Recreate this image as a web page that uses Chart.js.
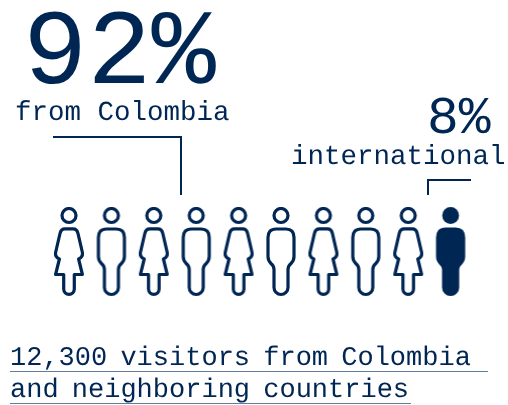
<!DOCTYPE html>
<html>
<head>
<meta charset="utf-8">
<title>Visitors from Colombia</title>
<script src="https://cdn.jsdelivr.net/npm/chart.js@4"></script>
<style>
  html, body { margin: 0; padding: 0; background: #fff; }
  #wrap { position: relative; width: 508px; height: 405px; overflow: hidden; text-rendering: geometricPrecision; }
  canvas { position: absolute; left: 0; top: 0; }
  .txt {
    position: absolute;
    font-family: "Liberation Mono", monospace;
    color: #002654;
    line-height: 1;
    white-space: pre;
  }
  .leader { position: absolute; box-sizing: border-box; border: 0 solid #002654; }
  #big { left: 23px; top: 2px; font-size: 107px; }
  #from { left: 15px; top: 100px; font-size: 27.5px; }
  #small { left: 427px; top: 93px; font-size: 53px; }
  #intl { left: 291px; top: 144px; font-size: 27.5px; }
  #foot { left: 10px; top: 343px; font-size: 27px; line-height: 33px; word-spacing: -3px; }
  #foot span { display: block; height: 28px; margin-bottom: 3px; border-bottom: 1.5px solid #5f7d9f; }
  #foot1 { width: 478px; }
  #foot2 { width: 401px; }
  #lead1 { left: 53px; top: 136px; width: 129px; height: 59px; border-top-width: 2px; border-right-width: 2px; }
  #lead2 { left: 427px; top: 179px; width: 44px; height: 16px; border-top-width: 2px; border-left-width: 2px; }
</style>
</head>
<body>
<div id="wrap">
  <canvas id="chart" width="508" height="405"></canvas>
  <div class="txt" id="big"></div>
  <div class="txt" id="from"></div>
  <div class="txt" id="small"></div>
  <div class="txt" id="intl"></div>
  <div class="txt" id="foot"><span id="foot1"></span><span id="foot2"></span></div>
  <div class="leader" id="lead1"></div>
  <div class="leader" id="lead2"></div>
</div>
<script>
const navy = "#002654";

const figureKinds = ["female", "male", "female", "male", "female", "male", "female", "male", "female", "male"];
const figureGroups = ["colombia", "colombia", "colombia", "colombia", "colombia", "colombia", "colombia", "colombia", "colombia", "international"];

const shareColombia = "92%";
const labelColombia = "from Colombia";
const shareInternational = "8%";
const labelInternational = "international";
const footLines = ["12,300 visitors from Colombia", "and neighboring countries"];

document.getElementById("big").textContent = shareColombia;
document.getElementById("from").textContent = labelColombia;
document.getElementById("small").textContent = shareInternational;
document.getElementById("intl").textContent = labelInternational;
document.getElementById("foot1").textContent = footLines[0];
document.getElementById("foot2").textContent = footLines[1];

function femalePath(ctx) {
  ctx.beginPath();
  ctx.moveTo(-4, 21.3);
  ctx.lineTo(4, 21.3);
  ctx.quadraticCurveTo(8, 21.3, 9, 26);
  ctx.lineTo(13.4, 45);
  ctx.quadraticCurveTo(14.2, 49.5, 9.6, 51.5);
  ctx.lineTo(13.4, 67);
  ctx.lineTo(5.3, 67);
  ctx.lineTo(5.3, 81.5);
  ctx.arc(0, 81.5, 5.3, 0, Math.PI);
  ctx.lineTo(-5.3, 67);
  ctx.lineTo(-13.4, 67);
  ctx.lineTo(-9.6, 51.5);
  ctx.quadraticCurveTo(-14.2, 49.5, -13.4, 45);
  ctx.lineTo(-9, 26);
  ctx.quadraticCurveTo(-8, 21.3, -4, 21.3);
  ctx.closePath();
}

function malePath(ctx) {
  ctx.beginPath();
  ctx.moveTo(-5, 21.5);
  ctx.lineTo(5, 21.5);
  ctx.quadraticCurveTo(13, 21.5, 13, 30);
  ctx.lineTo(13, 49);
  ctx.quadraticCurveTo(13, 53, 10, 56);
  ctx.quadraticCurveTo(7, 58.5, 7, 62);
  ctx.lineTo(7, 80);
  ctx.arc(0, 80, 7, 0, Math.PI);
  ctx.lineTo(-7, 62);
  ctx.quadraticCurveTo(-7, 58.5, -10, 56);
  ctx.quadraticCurveTo(-13, 53, -13, 49);
  ctx.lineTo(-13, 30);
  ctx.quadraticCurveTo(-13, 21.5, -5, 21.5);
  ctx.closePath();
}

function makeFigure(kind, filled) {
  const c = document.createElement("canvas");
  c.width = 34;
  c.height = 90;
  const ctx = c.getContext("2d");
  ctx.translate(17, 0.5);
  ctx.strokeStyle = navy;
  ctx.fillStyle = navy;
  ctx.lineWidth = 3.2;
  ctx.lineJoin = "round";

  ctx.beginPath();
  ctx.arc(0, 8, filled ? 8.4 : 7, 0, Math.PI * 2);
  if (filled) ctx.fill(); else ctx.stroke();

  if (kind === "female") femalePath(ctx); else malePath(ctx);
  if (filled) ctx.fill();
  ctx.stroke();
  return c;
}

const figurePoints = figureKinds.map((kind, i) => ({ x: i, y: 1 }));
const figureStyles = figureKinds.map((kind, i) => makeFigure(kind, figureGroups[i] === "international"));

new Chart(document.getElementById("chart"), {
  type: "scatter",
  data: {
    datasets: [{
      label: "Visitors",
      data: figurePoints,
      pointStyle: ctx => figureStyles[ctx.dataIndex],
      pointRadius: 10,
      pointHoverRadius: 10
    }]
  },
  options: {
    responsive: false,
    animation: false,
    layout: { padding: { left: 47.8, right: 36.2, top: 110, bottom: 0 } },
    plugins: { legend: { display: false }, tooltip: { enabled: false } },
    scales: {
      x: { type: "linear", min: -0.5, max: 9.5, display: false },
      y: { type: "linear", min: 0, max: 2, display: false }
    }
  }
});
</script>
</body>
</html>
